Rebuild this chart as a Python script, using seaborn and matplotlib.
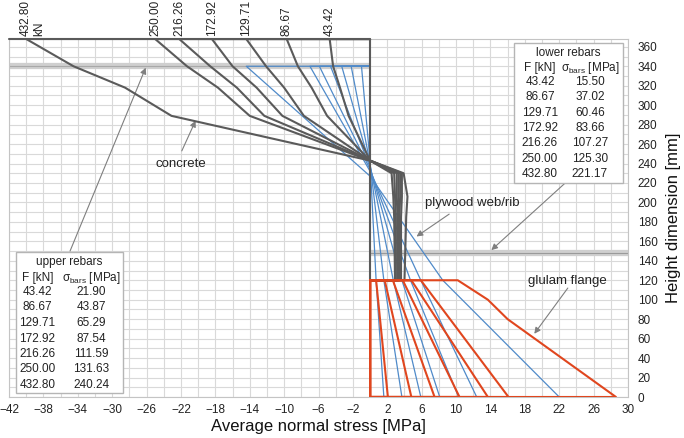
import numpy as np
import pandas as pd
import matplotlib
matplotlib.use("Agg")
import matplotlib.pyplot as plt
import seaborn as sns
from matplotlib.patches import Rectangle

# ---------------- data ----------------
loads = [43.42, 86.67, 129.71, 172.92, 216.26, 250.00, 432.80]
load_labels = ["43.42", "86.67", "129.71", "172.92", "216.26", "250.00", "432.80\nkN"]
sigma_upper = ["21.90", "43.87", "65.29", "87.54", "111.59", "131.63", "240.24"]
sigma_lower = ["15.50", "37.02", "60.46", "83.66", "107.27", "125.30", "221.17"]

# concrete (dark grey) stress [MPa] at heights [mm]
conc_h = [368, 340, 318, 289, 243, 230, 206, 185, 120]
conc_43 = [-4.7, -4.3, -3.5, -2.5, 0.0, 2.5, 2.7, 2.8, 2.9]
conc_87 = [-9.7, -8.4, -6.8, -5.0, 0.0, 2.8, 2.9, 3.0, 3.0]
conc_130 = [-14.4, -12.1, -10.0, -7.7, 0.0, 3.1, 3.1, 3.2, 3.2]
conc_173 = [-18.4, -16.0, -13.2, -10.2, 0.0, 3.3, 3.3, 3.3, 3.3]
conc_216 = [-22.2, -18.6, -15.5, -12.3, 0.0, 3.5, 3.5, 3.4, 3.4]
conc_250 = [-25.0, -21.3, -17.7, -14.0, 0.0, 3.7, 3.7, 3.6, 3.6]
conc_433 = [-40.0, -34.5, -28.5, -23.1, 0.0, 3.9, 4.35, 4.2, 4.0]
concrete = [conc_43, conc_87, conc_130, conc_173, conc_216, conc_250, conc_433]

# plywood web (blue)
ply_top = [-1.0, -2.2, -3.3, -4.6, -5.9, -7.0, -14.4]      # at 340 mm
ply_na = [242, 240, 238, 236, 234, 232, 227]               # zero crossing height
ply_120 = [0.7, 1.6, 2.7, 3.7, 4.7, 5.9, 8.45]             # at 120 mm
ply_bot = [1.6, 3.7, 5.9, 8.1, 10.3, 12.4, 22.0]           # at 0 mm

# glulam flange (orange)
glu_top = [0.7, 1.7, 2.65, 3.8, 4.8, 5.9]                  # at 120 mm
glu_bot = [2.07, 4.8, 7.5, 10.4, 13.7, 16.1]               # at 0 mm
glu_max_h = [120, 100, 80, 0]
glu_max = [10.2, 13.7, 16.0, 28.6]                         # 432.80 kN

x_ticks = list(range(-42, 31, 4))
y_ticks = list(range(0, 361, 20))

# ---------------- style ----------------
sns.set_theme(style="whitegrid")
plt.rcParams["font.family"] = ["Liberation Sans", "DejaVu Sans"]
plt.rcParams["mathtext.fontset"] = "custom"
plt.rcParams["mathtext.rm"] = "Liberation Sans"
plt.rcParams["mathtext.it"] = "Liberation Sans:italic"

W, H = 684, 438
fig = plt.figure(figsize=(W / 100, H / 100), dpi=100)
L, R, T, B = 9, 628, 39, 397
ax = fig.add_axes([L / W, 1 - B / H, (R - L) / W, (B - T) / H])
ax.set_xlim(-42, 30)
ax.set_ylim(0, 368)

def P(px, py):
    return (px / W, 1 - py / H)

GREY = "#5a5a5a"
BLUE = "#4f8ac9"
ORANGE = "#e0461e"

# grid
ax.set_xticks(x_ticks)
ax.set_xticks(range(-42, 31, 2), minor=True)
ax.set_yticks(y_ticks)
ax.set_yticks(range(0, 368, 10), minor=True)
ax.grid(which="both", color="#d9d9d9", linewidth=0.8)
ax.set_axisbelow(True)
for s in ax.spines.values():
    s.set_color("#c4c4c4")
    s.set_linewidth(0.8)

# rebar bands
ax.hlines(340, -42, 0, color="#cfcfcf", lw=4.5, zorder=1.5)
ax.hlines(340, -42, 0, color="#a8a8a8", lw=0.8, zorder=1.6)
ax.hlines(148.5, 0, 30, color="#cfcfcf", lw=4.5, zorder=1.5)
ax.hlines(148.5, 0, 30, color="#9a9a9a", lw=0.8, zorder=1.6)

# plywood web
for t, na, m, b in zip(ply_top, ply_na, ply_120, ply_bot):
    sns.lineplot(x=[0, t, 0, m, b], y=[340, 340, na, 120, 0], sort=False,
                 estimator=None, color=BLUE, linewidth=0.9, ax=ax, zorder=3)

# concrete
for c in concrete:
    sns.lineplot(x=[0] + c + [0], y=[368] + conc_h + [120], sort=False,
                 estimator=None, color=GREY, linewidth=1.5, ax=ax, zorder=4)
ax.plot([-42, 0], [368, 368], color=GREY, lw=1.5, zorder=4, clip_on=False)
ax.plot([0, 0], [120, 368], color=GREY, lw=1.5, zorder=4, clip_on=False)

# glulam
for t, b in zip(glu_top, glu_bot):
    sns.lineplot(x=[0, 0, t, b, 0], y=[0, 120, 120, 0, 0], sort=False,
                 estimator=None, color=ORANGE, linewidth=1.5, ax=ax, zorder=5)
sns.lineplot(x=[0, 0] + glu_max + [0], y=[0, 120] + glu_max_h + [0], sort=False,
             estimator=None, color=ORANGE, linewidth=1.5, ax=ax, zorder=5)

# load labels at top
for lab, c in zip(load_labels, concrete):
    xoff = 0.7 if "kN" in lab else 0.0
    ax.text(c[0] + xoff, 371.5, lab, rotation=90, ha="center", va="bottom",
            fontsize=8.5, color="#222222", multialignment="left", clip_on=False)

# axes labels / ticks
ax.yaxis.tick_right()
ax.yaxis.set_label_position("right")
ax.tick_params(axis="both", which="both", length=0, labelsize=8.5, colors="#222222")
ax.tick_params(axis="x", pad=5)
ax.tick_params(axis="y", pad=7)
ax.set_xlabel("Average normal stress [MPa]", fontsize=12, color="#111111", labelpad=2)
ax.set_ylabel("Height dimension [mm]", fontsize=12, color="#111111", labelpad=6)

# annotations
arrow = dict(arrowstyle="-|>", color="#7f7f7f", lw=0.8, mutation_scale=9, shrinkA=0, shrinkB=0)
ax.text(-22.0, 239.5, "concrete", ha="center", va="center", fontsize=9.5, color="#222222")
ax.annotate("", xy=(-20.3, 284), xytext=(-21.9, 253), arrowprops=arrow)
ax.text(11.9, 199.5, "plywood web/rib", ha="center", va="center", fontsize=9.5, color="#222222")
ax.annotate("", xy=(5.4, 165), xytext=(9.2, 188), arrowprops=arrow)
ax.text(23.0, 119, "glulam flange", ha="center", va="center", fontsize=9.5, color="#222222")
ax.annotate("", xy=(19.1, 65), xytext=(23.0, 112), arrowprops=arrow)
ax.annotate("", xy=(-26.1, 338.5), xytext=(-34.9, 150), arrowprops=arrow)
ax.annotate("", xy=(14.1, 151), xytext=(22.7, 220), arrowprops=arrow)

# tables
def table(x0, y0, x1, y1, title, ty, hy, row0, dy, cf, cs, sig):
    fig.add_artist(Rectangle(P(x0, y1), (x1 - x0) / W, (y1 - y0) / H,
                             transform=fig.transFigure, facecolor="white",
                             edgecolor="#b5b5b5", lw=1.0, zorder=6))
    kw = dict(ha="center", va="center", fontsize=8.5, color="#222222", zorder=7)
    fig.text(*P((x0 + x1) / 2, ty), title, **kw)
    fig.text(*P(cf, hy), "F [kN]", **kw)
    fig.text(*P(cs, hy), r"$\mathrm{\sigma}_{\mathrm{bars}}$ [MPa]", **kw)
    for i, (f, s) in enumerate(zip(loads, sig)):
        fig.text(*P(cf, row0 + i * dy), f"{f:.2f}", **kw)
        fig.text(*P(cs, row0 + i * dy), s, **kw)

table(16, 252, 123, 393, "upper rebars", 262, 278, 292, 15.5, 37.5, 91.5, sigma_upper)
table(514, 43, 623, 183, "lower rebars", 53, 68, 82, 15.3, 540, 590, sigma_lower)

fig.savefig("out.png", dpi=100)
